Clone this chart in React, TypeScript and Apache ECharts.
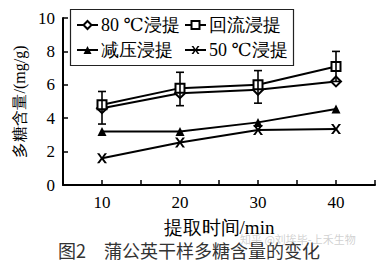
import React, { useEffect, useRef } from "react";
import * as echarts from "echarts";

const times = [10, 20, 30, 40];
const names = ["80 ℃浸提", "回流浸提", "减压浸提", "50 ℃浸提"];
const hot80 = [4.6, 5.5, 5.7, 6.2];
const reflux = [4.8, 5.8, 6.0, 7.1];
const vacuum = [3.2, 3.2, 3.75, 4.55];
const warm50 = [1.6, 2.55, 3.3, 3.35];
const errLow = [3.65, 4.75, 4.9, 6.2];
const errHigh = [5.6, 6.75, 6.85, 8.0];
const xTickLabels = [10, 20, 30, 40];

const SERIF = '"Times New Roman", "Liberation Serif", "DejaVu Serif", serif';
const XMARK =
  "path://M0,0 L2.4,0 L5,3.6 L7.6,0 L10,0 L6.3,5 L10,10 L7.6,10 L5,6.4 L2.4,10 L0,10 L3.7,5 Z";

export default function App() {
  const ref = useRef<HTMLDivElement>(null);
  useEffect(() => {
    const chart = echarts.init(ref.current!, null, { renderer: "svg" });
    const pts = (vals: number[]) => times.map((t, i) => [t, vals[i]]);
    const lineSeries = (name: string, vals: number[], symbol: string, size: number, empty: boolean) => ({
      type: "line",
      name,
      data: pts(vals),
      symbol,
      symbolSize: size,
      showAllSymbol: true,
      lineStyle: { color: "#000", width: 2 },
      itemStyle: {
        color: "#000",
        borderColor: "#000",
        borderWidth: empty ? 1.6 : 0,
      },
      z: 3,
    });
    const legend = (name: string, left: number, top: number) => ({
      data: [name],
      left,
      top,
      padding: 0,
      itemWidth: 21,
      itemHeight: 10,
      itemGap: 0,
      selectedMode: false,
      textStyle: { fontFamily: SERIF, fontSize: 18, color: "#000", padding: [0, 0, 0, -2] },
    });
    chart.setOption({
      animation: false,
      backgroundColor: "#fff",
      textStyle: { fontFamily: SERIF },
      grid: { left: 63, right: 14, top: 18, bottom: 77, containLabel: false },
      legend: [
        legend(names[0], 76, 16),
        legend(names[1], 184, 16),
        legend(names[2], 76, 41),
        legend(names[3], 184, 41),
      ],
      xAxis: {
        type: "value",
        min: 5,
        max: 45,
        interval: 5,
        name: "提取时间/min",
        nameLocation: "middle",
        nameGap: 33,
        nameTextStyle: { fontFamily: SERIF, fontSize: 19, color: "#000" },
        axisLine: { lineStyle: { color: "#000", width: 2 } },
        axisTick: { inside: true, length: 5, lineStyle: { color: "#000", width: 1.5 } },
        axisLabel: {
          fontFamily: SERIF,
          fontSize: 17,
          color: "#000",
          margin: 9,
          formatter: (v: number) => (xTickLabels.includes(v) ? String(v) : ""),
        },
        splitLine: { show: false },
      },
      yAxis: {
        type: "value",
        min: 0,
        max: 10,
        interval: 2,
        name: "多糖含量/(mg/g)",
        nameLocation: "middle",
        nameGap: 33,
        nameRotate: 90,
        nameTextStyle: { fontFamily: SERIF, fontSize: 16, color: "#000" },
        axisLine: { show: true, lineStyle: { color: "#000", width: 2 } },
        axisTick: { show: true, inside: true, length: 5, lineStyle: { color: "#000", width: 1.5 } },
        axisLabel: { fontFamily: SERIF, fontSize: 17, color: "#000", margin: 8 },
        splitLine: { show: false },
      },
      series: [
        lineSeries(names[0], hot80, "emptyDiamond", 10, true),
        lineSeries(names[1], reflux, "emptyRect", 9, true),
        lineSeries(names[2], vacuum, "triangle", 9, false),
        lineSeries(names[3], warm50, XMARK, 10, false),
        {
          type: "custom",
          name: "err",
          data: times.map((t, i) => [t, errLow[i], errHigh[i]]),
          z: 4,
          renderItem: (params: any, api: any) => {
            const x = api.value(0);
            const lo = api.coord([x, api.value(1)]);
            const hi = api.coord([x, api.value(2)]);
            const w = 4;
            const st = { fill: "#000" };
            return {
              type: "group",
              children: [
                { type: "rect", shape: { x: hi[0] - 0.8, y: hi[1], width: 1.6, height: lo[1] - hi[1] }, style: st },
                { type: "rect", shape: { x: hi[0] - w, y: hi[1] - 0.8, width: 2 * w, height: 1.6 }, style: st },
                { type: "rect", shape: { x: lo[0] - w, y: lo[1] - 0.8, width: 2 * w, height: 1.6 }, style: st },
              ],
            };
          },
        },
      ],
      graphic: [
        {
          type: "rect",
          shape: { x: 70.5, y: 9.5, width: 223, height: 56 },
          style: { fill: "#fff", stroke: "#222", lineWidth: 1.2 },
          z: 1,
        },
        {
          type: "text",
          left: 58,
          top: 241,
          style: {
            text: "图2　蒲公英干样多糖含量的变化",
            fontFamily: '"Noto Sans CJK SC", sans-serif',
            fontSize: 18,
            lineHeight: 18,
            fill: "#333",
          },
          z: 5,
        },
        {
          type: "text",
          left: 240,
          top: 233,
          style: {
            text: "知乎 @刘埃毕-上禾生物",
            fontFamily: '"Noto Sans CJK SC", sans-serif',
            fontSize: 11,
            lineHeight: 11,
            fill: "rgba(170,170,170,0.55)",
          },
          z: 6,
        },
      ],
    });
    return () => chart.dispose();
  }, []);
  return <div ref={ref} style={{ width: 389, height: 262, position: "absolute", left: 0, top: 0 }} />;
}
